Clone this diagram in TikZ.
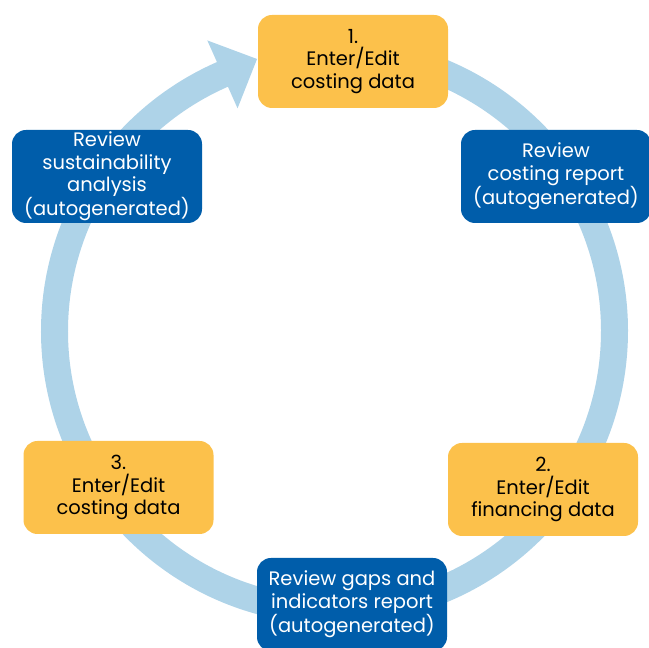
\documentclass[tikz,border=0pt]{standalone}
\usepackage{fontspec}
\setmainfont{Poppins}
\usetikzlibrary{arrows.meta}
\definecolor{stepfill}{RGB}{252,193,75}
\definecolor{reportfill}{RGB}{0,93,170}
\definecolor{ringblue}{RGB}{174,211,232}

\begin{document}
\begin{tikzpicture}[x=1pt,y=1pt,
    stagebox/.style={rounded corners=14pt, minimum width=190pt, minimum height=93pt,
        inner sep=1pt, align=center, font=\fontsize{19.5}{22.5}\selectfont},
    stepbox/.style={stagebox, fill=stepfill, text=black},
    reportbox/.style={stagebox, fill=reportfill, text=white}]
    \useasboundingbox (0,0) rectangle (649,648);
    % the cycle, clockwise, starting behind step 1
    \coordinate (hub) at (334.5,317);
    \draw[ringblue, line width=27pt, -{Triangle[width=72pt,length=38pt]}]
        (hub) ++(88:280) arc[start angle=88, end angle=-246, radius=280] -- ++(24:40);
    \node [stepbox] (step1) at (353,586.5) {1.\\Enter/Edit\\costing data};
    \node [reportbox] (costrep) at (556,471.5) {Review\\costing report\\(autogenerated)};
    \node [stepbox] (step2) at (543,158.5) {2.\\Enter/Edit\\financing data};
    \node [reportbox] (gaprep) at (352,43.5) {Review gaps and\\indicators report\\(autogenerated)};
    \node [stepbox] (step3) at (118.5,160.5) {3.\\Enter/Edit\\costing data};
    \node [reportbox] (susrep) at (107,471.5) {Review\\sustainability\\analysis\\(autogenerated)};
\end{tikzpicture}
\end{document}
